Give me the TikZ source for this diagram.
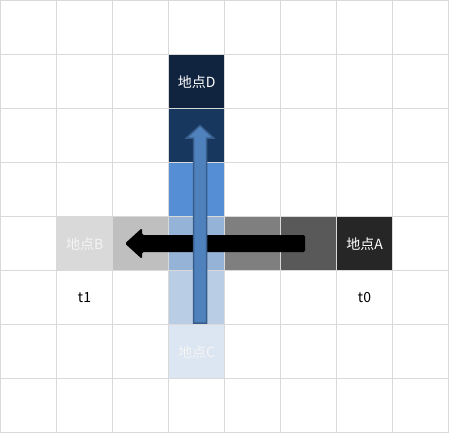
\documentclass[tikz,border=0pt]{standalone}
\usepackage{fontspec}
\setmainfont{Noto Sans CJK SC}
\definecolor{gridc}{HTML}{D9D9D9}
\definecolor{cD}{HTML}{10243F}
\definecolor{cV2}{HTML}{17375E}
\definecolor{cV3}{HTML}{558ED5}
\definecolor{cV4}{HTML}{95B3D7}
\definecolor{cV5}{HTML}{B9CDE5}
\definecolor{cC}{HTML}{DCE6F2}
\definecolor{cB}{HTML}{D9D9D9}
\definecolor{cH2}{HTML}{BFBFBF}
\definecolor{cH4}{HTML}{7F7F7F}
\definecolor{cH5}{HTML}{595959}
\definecolor{cA}{HTML}{262626}
\definecolor{arrowblue}{HTML}{4F81BD}
\definecolor{arrowedge}{HTML}{385D8A}
\definecolor{lighttext}{HTML}{F4F4F4}
\begin{document}
\begin{tikzpicture}[x=1pt,y=-1pt,
  cell/.style={rectangle, minimum width=56pt, minimum height=54pt, inner sep=0pt, draw=none, anchor=north west,
    font=\fontsize{14}{16}\selectfont, text=white},
  lbl/.style={inner sep=0pt, font=\fontsize{14}{16}\selectfont, text=black}]
\useasboundingbox (0,0) rectangle (449,433);
\fill[white] (0,0) rectangle (449,433);
% vertical column
\node[cell, fill=cD] (D) at (168.5,54.5) {地点D};
\node[cell, fill=cV2] (v2) at (168.5,108.5) {};
\node[cell, fill=cV3] (v3) at (168.5,162.5) {};
\node[cell, fill=cV4] (v4) at (168.5,216.5) {};
\node[cell, fill=cV5] (v5) at (168.5,270.5) {};
\node[cell, fill=cC, text=lighttext] (C) at (168.5,324.5) {地点C};
% horizontal row
\node[cell, fill=cB, text=lighttext] (B) at (56.5,216.5) {地点B};
\node[cell, fill=cH2] (h2) at (112.5,216.5) {};
\node[cell, fill=cH4] (h4) at (224.5,216.5) {};
\node[cell, fill=cH5] (h5) at (280.5,216.5) {};
\node[cell, fill=cA] (A) at (336.5,216.5) {地点A};
% grid
\foreach \i in {0,...,8} {
  \draw[gridc, line width=1pt] (0.5+56*\i,0) -- (0.5+56*\i,433);
  \draw[gridc, line width=1pt] (0,0.5+54*\i) -- (449,0.5+54*\i);
}
% labels
\node[lbl] (t1) at (84.5,297.5) {t1};
\node[lbl] (t0) at (364.5,297.5) {t0};
% black arrow A -> B
\fill[black, rounded corners=1.5pt] (305,235) -- (142,235) -- (142,228) -- (125,243.5) -- (142,259) -- (142,252) -- (305,252) -- cycle;
% blue arrow C -> D
\filldraw[fill=arrowblue, draw=arrowedge, line width=1.5pt, line join=miter] (193.5,323) -- (193.5,138) -- (186.5,138) -- (200,125.5) -- (213.5,138) -- (206.5,138) -- (206.5,323) -- cycle;
\end{tikzpicture}
\end{document}
